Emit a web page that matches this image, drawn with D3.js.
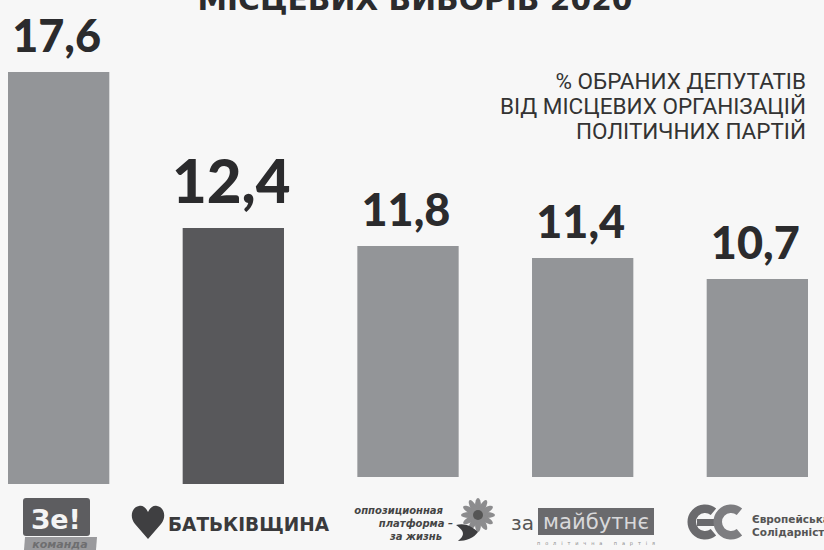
<!DOCTYPE html>
<html>
<head>
<meta charset="utf-8">
<style>
  html, body { margin: 0; padding: 0; background: #f7f7f7; }
  svg { display: block; }
</style>
<script src="https://cdn.jsdelivr.net/npm/d3@7/dist/d3.min.js"></script>
</head>
<body>
<svg id="chart" width="824" height="550"></svg>
<script>
var parties = ["Слуга народу", "Батьківщина", "Опозиційна платформа – За життя", "За майбутнє", "Європейська Солідарність"];
var values = [17.6, 12.4, 11.8, 11.4, 10.7];
var labels = ["17,6", "12,4", "11,8", "11,4", "10,7"];
var title = "МІСЦЕВИХ ВИБОРІВ 2020";
var note = ["% ОБРАНИХ ДЕПУТАТІВ", "ВІД МІСЦЕВИХ ОРГАНІЗАЦІЙ", "ПОЛІТИЧНИХ ПАРТІЙ"];

var W = 824, H = 550;
var svg = d3.select("#chart");
svg.append("rect").attr("width", W).attr("height", H).attr("fill", "#f7f7f7");

var x = d3.scaleBand().domain(parties).range([8, 808]).paddingInner(0.42).paddingOuter(0);
var y = d3.scaleLinear().domain([10, 18]).range([300, 60]);

// poster bars don't share a baseline exactly
function base(i) { return i < 2 ? 484 : 477; }

svg.selectAll(".bar").data(values).enter().append("rect")
  .attr("class", "bar")
  .attr("x", function(d, i) { return x(parties[i]); })
  .attr("y", function(d) { return y(d); })
  .attr("width", x.bandwidth())
  .attr("height", function(d, i) { return base(i) - y(d); })
  .attr("fill", function(d, i) { return i == 1 ? "#58585b" : "#939598"; });

svg.selectAll(".val").data(values).enter().append("text")
  .attr("class", "val")
  .attr("x", function(d, i) { return x(parties[i]) + x.bandwidth() / 2 - 2; })
  .attr("y", function(d, i) { return y(d) - (i == 1 ? 25 : 20); })
  .attr("text-anchor", "middle")
  .style("font-family", "Lato, 'DejaVu Sans', sans-serif")
  .style("font-weight", 900)
  .style("font-size", function(d, i) { return i == 1 ? "60px" : "45px"; })
  .attr("fill", "#2b2b2d")
  .text(function(d, i) { return labels[i]; });

// title, cut by the top edge
svg.append("text").attr("x", 415).attr("y", 10).attr("text-anchor", "middle")
  .attr("textLength", 435).attr("lengthAdjust", "spacingAndGlyphs")
  .style("font-family", "'DejaVu Sans', sans-serif").style("font-weight", 900).style("font-size", "30px")
  .attr("fill", "#2b2b2d").text(title);

svg.append("g").selectAll("text").data(note).enter().append("text")
  .attr("x", 806).attr("y", function(d, i) { return 89 + i * 25; })
  .attr("text-anchor", "end")
  .style("font-family", "Roboto, sans-serif").style("font-size", "22.5px")
  .attr("fill", "#333").text(function(d) { return d; });

// logos
var logos = svg.append("g");

// Зе! команда
logos.append("rect").attr("x", 23).attr("y", 498).attr("width", 67).attr("height", 38).attr("rx", 3).attr("fill", "#5d5d60");
logos.append("text").attr("x", 56).attr("y", 529).attr("text-anchor", "middle")
  .style("font-family", "'DejaVu Sans', sans-serif").style("font-weight", 900).style("font-size", "27px")
  .attr("fill", "#f4f4f4").text("Зе!");
logos.append("path").attr("d", "M25,537 L97,537 L96,550 L24,550 Z").attr("fill", "#9a9a9d");
logos.append("text").attr("x", 60).attr("y", 548).attr("text-anchor", "middle")
  .style("font-family", "'DejaVu Sans', sans-serif").style("font-weight", "bold").style("font-style", "italic").style("font-size", "11px")
  .attr("fill", "#6e6e70").text("команда");

// Батьківщина
logos.append("path")
  .attr("d", "M148,539 L135,524 C129,517 132,507 139,506 C143,505 146,508 148,512 C150,508 153,505 157,506 C164,507 167,517 161,524 Z")
  .attr("fill", "#3f3f41");
logos.append("text").attr("x", 168).attr("y", 531)
  .style("font-family", "'DejaVu Sans', sans-serif").style("font-weight", "bold").style("font-size", "19px")
  .attr("textLength", 161).attr("lengthAdjust", "spacingAndGlyphs")
  .attr("fill", "#3a3a3c").text("БАТЬКІВЩИНА");

// Оппозиционная платформа
var opz = ["оппозиционная", "платформа –", "за жизнь"];
logos.append("g").selectAll("text").data(opz).enter().append("text")
  .attr("x", function(d, i) { return [443, 453, 442][i]; })
  .attr("y", function(d, i) { return 514 + i * 13; })
  .attr("text-anchor", "end")
  .style("font-family", "'DejaVu Sans', sans-serif").style("font-weight", "bold").style("font-style", "italic").style("font-size", "10px")
  .attr("fill", "#444").text(function(d) { return d; });
var petals = logos.append("g").attr("transform", "translate(478,515)");
d3.range(12).forEach(function(k) {
  petals.append("ellipse").attr("cx", 0).attr("cy", -9).attr("rx", 3).attr("ry", 8)
    .attr("transform", "rotate(" + (k * 30) + ")").attr("fill", "#8c8c8e");
});
petals.append("circle").attr("r", 5).attr("fill", "#555");
logos.append("path").attr("d", "M456,525 C466,522 474,528 478,532 C474,538 466,541 458,541 C464,536 466,532 456,525 Z").attr("fill", "#3d3d3f");

// За майбутнє
logos.append("text").attr("x", 511).attr("y", 530)
  .style("font-family", "'DejaVu Sans', sans-serif").style("font-size", "20px")
  .attr("fill", "#555").text("за");
logos.append("rect").attr("x", 538).attr("y", 508).attr("width", 116).attr("height", 27).attr("fill", "#6a6a6d");
logos.append("text").attr("x", 596).attr("y", 529).attr("text-anchor", "middle")
  .style("font-family", "'DejaVu Sans', sans-serif").style("font-size", "21px")
  .attr("textLength", 106).attr("lengthAdjust", "spacingAndGlyphs")
  .attr("fill", "#d8d8da").text("майбутнє");
logos.append("text").attr("x", 596).attr("y", 545).attr("text-anchor", "middle")
  .style("font-family", "'DejaVu Sans', sans-serif").style("font-size", "5px")
  .attr("textLength", 118).attr("fill", "#888").text("політична партія");

// Європейська Солідарність: two thick C shapes
var ring = d3.arc().innerRadius(9).outerRadius(17.5).startAngle(Math.PI * 0.78).endAngle(Math.PI * 2.22);
logos.append("path").attr("d", ring()).attr("transform", "translate(705,522)").attr("fill", "#6a6a6d");
logos.append("rect").attr("x", 697).attr("y", 519).attr("width", 17).attr("height", 7).attr("fill", "#6a6a6d");
logos.append("path").attr("d", ring()).attr("transform", "translate(731,522)").attr("fill", "#7d7d80");
logos.append("g").selectAll("text").data(["Європейська", "Солідарність"]).enter().append("text")
  .attr("x", 752).attr("y", function(d, i) { return 523 + i * 13; })
  .style("font-family", "'DejaVu Sans', sans-serif").style("font-weight", "bold").style("font-size", "10.5px")
  .attr("fill", "#555").text(function(d) { return d; });
</script>
</body>
</html>
